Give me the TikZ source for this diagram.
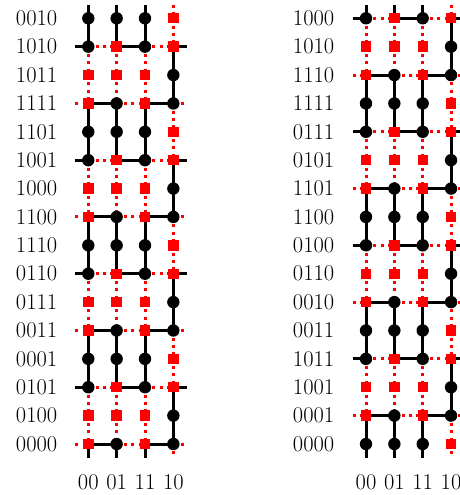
\documentclass[tikz,border=0pt]{standalone}
\usepackage{fontspec}
\pgfdeclarelayer{bg}
\pgfsetlayers{bg,main}
\tikzset{
  blk/.style={line width=3pt, black},
  rdot/.style={line width=3pt, red, dash pattern=on 3pt off 4.3pt},
  dotnode/.style={circle, fill=black, inner sep=0pt, minimum size=12.4pt},
  sqnode/.style={rectangle, fill=red, inner sep=0pt, minimum size=10.4pt},
  lab/.style={font=\fontsize{22.5}{27}\selectfont, inner sep=0pt},
}
\newcommand{\myedge}[3]{\ifnum#1=1 \draw[blk] (#2.center) -- (#3.center);\else\draw[rdot] (#2.center) -- (#3.center);\fi}
% #1 prefix, #2 offset, #3 x0, #4 label east x, #5 labels
\newcommand{\mygrid}[5]{%
  \foreach \lab [count=\r from 0] in {#5} {%
    \pgfmathsetmacro{\yy}{18.3+28.38*\r}%
    \node[lab,anchor=east] (#1lab\r) at (#4,\yy) {\lab};%
    \pgfmathtruncatemacro{\m}{mod(\r+#2,4)}%
    \foreach \c in {0,...,3} {%
      \pgfmathsetmacro{\xx}{#3+28.35*\c}%
      \pgfmathtruncatemacro{\isS}{((\m==0)&&(\c==3))||((\m==1)&&(mod(\c,2)==1))||((\m==2)&&(\c<3))||((\m==3)&&(mod(\c,2)==0))}%
      \ifnum\isS=1 \node[sqnode] (#1-\r-\c) at (\xx,\yy) {};\else\node[dotnode] (#1-\r-\c) at (\xx,\yy) {};\fi
    }%
    \coordinate (#1-l-\r) at (#3-13,\yy);%
    \coordinate (#1-r-\r) at (#3+3*28.35+13.5,\yy);%
  }%
  \foreach \c/\cl in {0/00,1/01,2/11,3/10} {%
    \pgfmathsetmacro{\xx}{#3+28.35*\c}%
    \coordinate (#1-t-\c) at (\xx,5);%
    \coordinate (#1-b-\c) at (\xx,457.5);%
    \node[lab] (#1col\c) at (\xx,482) {\cl};%
  }%
  \begin{pgfonlayer}{bg}%
  \foreach \c in {0,...,3} {%
    \pgfmathtruncatemacro{\km}{mod(#2+3,4)}%
    \pgfmathtruncatemacro{\bk}{((\km==0)||(\km==3))==(\c<3)}%
    \myedge{\bk}{#1-t-\c}{#1-0-\c}%
    \foreach \r in {0,...,14} {%
      \pgfmathtruncatemacro{\rn}{\r+1}%
      \pgfmathtruncatemacro{\km}{mod(\r+#2,4)}%
      \pgfmathtruncatemacro{\bk}{((\km==0)||(\km==3))==(\c<3)}%
      \myedge{\bk}{#1-\r-\c}{#1-\rn-\c}%
    }%
    \pgfmathtruncatemacro{\km}{mod(15+#2,4)}%
    \pgfmathtruncatemacro{\bk}{((\km==0)||(\km==3))==(\c<3)}%
    \myedge{\bk}{#1-15-\c}{#1-b-\c}%
  }%
  \foreach \r in {0,...,15} {%
    \pgfmathtruncatemacro{\m}{mod(\r+#2,4)}%
    \ifodd\m
      \pgfmathtruncatemacro{\bk}{\m==1}%
      \myedge{\bk}{#1-l-\r}{#1-\r-0}%
      \foreach \c in {0,1,2} {%
        \pgfmathtruncatemacro{\cn}{\c+1}%
        \pgfmathtruncatemacro{\bk}{(\m==1)==(mod(\c+1,2)==0)}%
        \myedge{\bk}{#1-\r-\c}{#1-\r-\cn}%
      }%
      \pgfmathtruncatemacro{\bk}{\m==1}%
      \myedge{\bk}{#1-\r-3}{#1-r-\r}%
    \fi
  }%
  \end{pgfonlayer}%
}
\begin{document}
\begin{tikzpicture}[x=1pt,y=-1pt]
\useasboundingbox (0,0) rectangle (460,495);
\mygrid{L}{0}{88.3}{57.5}{0010,1010,1011,1111,1101,1001,1000,1100,1110,0110,0111,0011,0001,0101,0100,0000}
\mygrid{R}{1}{366}{334.5}{1000,1010,1110,1111,0111,0101,1101,1100,0100,0110,0010,0011,1011,1001,0001,0000}
\end{tikzpicture}
\end{document}
